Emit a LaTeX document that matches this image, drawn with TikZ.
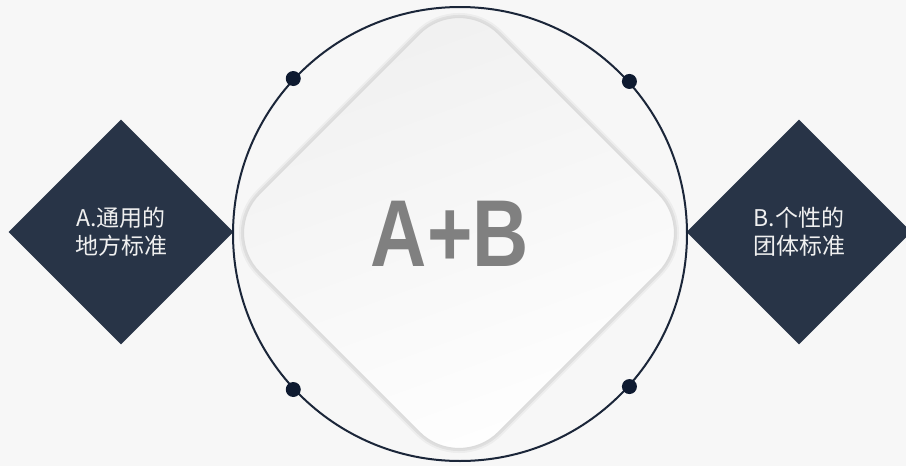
\documentclass[tikz,border=0pt]{standalone}
\usepackage{fontspec}
\usepackage{graphicx}
\setmainfont{Liberation Sans}
\newfontfamily\cjk{Noto Sans CJK SC}
\usetikzlibrary{shapes.geometric}
\definecolor{bgc}{HTML}{F7F7F7}
\definecolor{navy}{HTML}{283447}
\definecolor{ringc}{HTML}{1B2639}
\definecolor{dotc}{HTML}{0E1A30}
\definecolor{abc}{HTML}{808080}
\definecolor{txtc}{HTML}{F0F0F0}
\tikzset{
  sidebox/.style={diamond, aspect=1, fill=navy, inner sep=0pt,
    minimum width=225pt, minimum height=225pt, text=txtc, align=center,
    font=\cjk\fontsize{23}{28}\selectfont},
  ringnode/.style={circle, draw=ringc, line width=2pt, minimum size=454pt, inner sep=0pt},
  dotnode/.style={circle, fill=dotc, minimum size=15pt, inner sep=0pt},
  corebox/.style={diamond, aspect=1, minimum width=478pt, minimum height=478pt,
    inner sep=0pt, rounded corners=56pt, top color=black!6, bottom color=white,
    shading angle=20,
    preaction={draw=black, draw opacity=0.04, line width=9pt},
    preaction={draw=black, draw opacity=0.06, line width=5pt},
    draw=black!14, line width=1.2pt}
}
\begin{document}
\begin{tikzpicture}[x=1pt,y=-1pt]
  \fill[bgc] (0,0) rectangle (906,466);
  \useasboundingbox (0,0) rectangle (906,466);
  \clip (0,0) rectangle (906,466);
  \node[sidebox] (left) at (121,232) {A.通用的\\地方标准};
  \node[sidebox] (right) at (799,232) {B.个性的\\团体标准};
  \node[ringnode] (ring) at (460,234) {};
  \node[corebox] (core) at (459,233) {};
  \node[text=abc, font=\bfseries\fontsize{95}{95}\selectfont, inner sep=0pt] (ab) at (450,234) {\scalebox{0.82}[1]{A+B}};
  \node[dotnode] (d1) at (ring.137) {};
  \node[dotnode] (d2) at (ring.42) {};
  \node[dotnode] (d3) at (ring.223) {};
  \node[dotnode] (d4) at (ring.318) {};
\end{tikzpicture}
\end{document}
